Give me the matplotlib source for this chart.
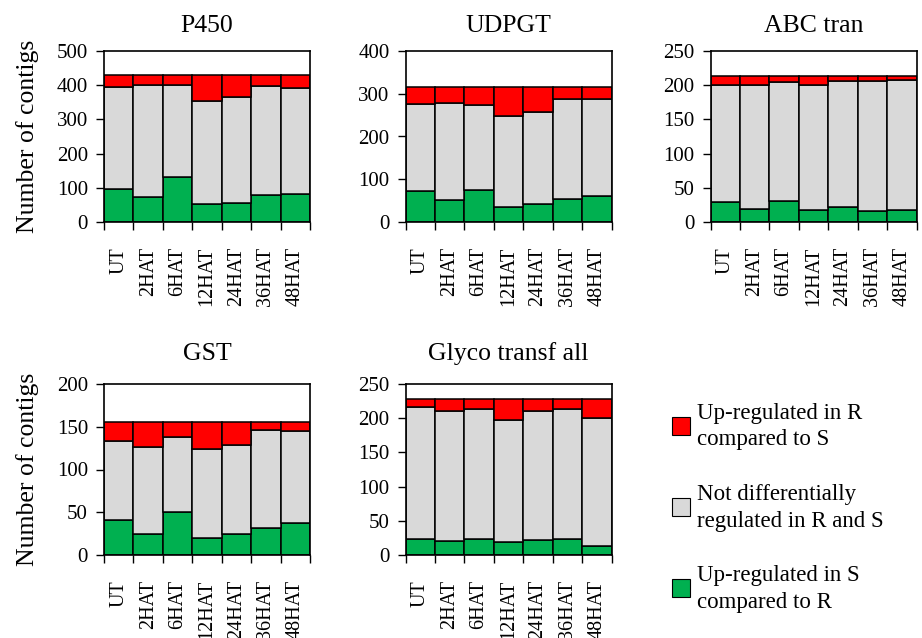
import matplotlib
matplotlib.use("Agg")
import matplotlib.pyplot as plt
from matplotlib.patches import Rectangle
import numpy as np

plt.rcParams['font.family'] = ['Liberation Serif', 'DejaVu Serif']

categories = ['UT', '2HAT', '6HAT', '12HAT', '24HAT', '36HAT', '48HAT']

# Each panel: up-regulated in S (green), not differential (grey), up-regulated in R (red)
p450_S = [97, 73, 132, 52, 57, 78, 83]
p450_N = [297, 328, 269, 301, 309, 319, 308]
p450_R = [36, 29, 29, 77, 64, 33, 39]

udpgt_S = [72, 51, 74, 36, 41, 53, 61]
udpgt_N = [203, 227, 200, 212, 216, 235, 226]
udpgt_R = [41, 38, 42, 68, 59, 28, 29]

abc_S = [29, 19, 31, 18, 22, 16, 18]
abc_N = [171, 182, 174, 182, 184, 190, 189]
abc_R = [14, 13, 9, 14, 8, 8, 7]

gst_S = [41, 24, 50, 20, 24, 31, 37]
gst_N = [92, 102, 88, 104, 105, 115, 108]
gst_R = [22, 29, 17, 31, 26, 9, 10]

glyco_S = [24, 21, 23, 19, 22, 23, 13]
glyco_N = [192, 189, 190, 178, 188, 190, 187]
glyco_R = [12, 18, 15, 31, 18, 15, 28]

titles = ['P450', 'UDPGT', 'ABC tran', 'GST', 'Glyco transf all']
ylims = [500, 400, 250, 200, 250]
ysteps = [100, 100, 50, 50, 50]
legend_labels = ['Up-regulated in R\ncompared to S',
                 'Not differentially\nregulated in R and S',
                 'Up-regulated in S\ncompared to R']

C_R = '#FF0000'
C_N = '#D9D9D9'
C_S = '#00B050'

panels = [(p450_S, p450_N, p450_R), (udpgt_S, udpgt_N, udpgt_R),
          (abc_S, abc_N, abc_R), (gst_S, gst_N, gst_R),
          (glyco_S, glyco_N, glyco_R)]

W, H = 922, 638
fig = plt.figure(figsize=(W / 100, H / 100), dpi=100)

def ax_rect(x0, y0, x1, y1):
    return [x0 / W, 1 - y1 / H, (x1 - x0) / W, (y1 - y0) / H]

rects = [ax_rect(104, 51, 310, 222), ax_rect(405.5, 51, 611.5, 222),
         ax_rect(710.5, 51, 916.5, 222), ax_rect(104, 384, 310, 555),
         ax_rect(405.5, 384, 611.5, 555)]

for i, (rect, (S, N, R)) in enumerate(zip(rects, panels)):
    ax = fig.add_axes(rect)
    x = np.arange(len(categories))
    S = np.array(S); N = np.array(N); R = np.array(R)
    kw = dict(width=1.0, edgecolor='black', linewidth=1.1, align='center')
    ax.bar(x, S, color=C_S, **kw)
    ax.bar(x, N, bottom=S, color=C_N, **kw)
    ax.bar(x, R, bottom=S + N, color=C_R, **kw)
    ax.set_xlim(-0.5, len(categories) - 0.5)
    ax.set_ylim(0, ylims[i])
    ax.set_yticks(np.arange(0, ylims[i] + 1, ysteps[i]))
    ax.set_xticks(x)
    ax.set_xticklabels(categories, rotation=90, fontsize=14.5)
    ax.set_xticks(np.arange(-0.5, len(categories)), minor=True)
    ax.tick_params(axis='x', which='major', length=0, pad=18)
    ax.tick_params(axis='x', which='minor', length=5.5, width=1.0, direction='out')
    ax.tick_params(axis='y', length=5.5, width=1.0, direction='out', pad=6, labelsize=15)
    for sp in ax.spines.values():
        sp.set_linewidth(1.2)
    ax.set_title(titles[i], fontsize=18.5, pad=14 if i < 3 else 17)
    if i in (0, 3):
        ax.set_ylabel('Number of contigs', fontsize=18.5, labelpad=13)

# legend
leg_items = [(C_R, 425.5, legend_labels[0]), (C_N, 507, legend_labels[1]),
             (C_S, 588, legend_labels[2])]
for col, yc, lab in leg_items:
    px0, px1 = 671.5, 689.5
    fig.patches.append(Rectangle((px0 / W, 1 - (yc + 9) / H), (px1 - px0) / W, 18 / H,
                                 transform=fig.transFigure, facecolor=col,
                                 edgecolor='black', linewidth=0.8))
    fig.text(697 / W, 1 - (yc + 1) / H, lab, fontsize=16.5, va='center', ha='left',
             linespacing=1.35)

fig.savefig('out.png', dpi=100)
